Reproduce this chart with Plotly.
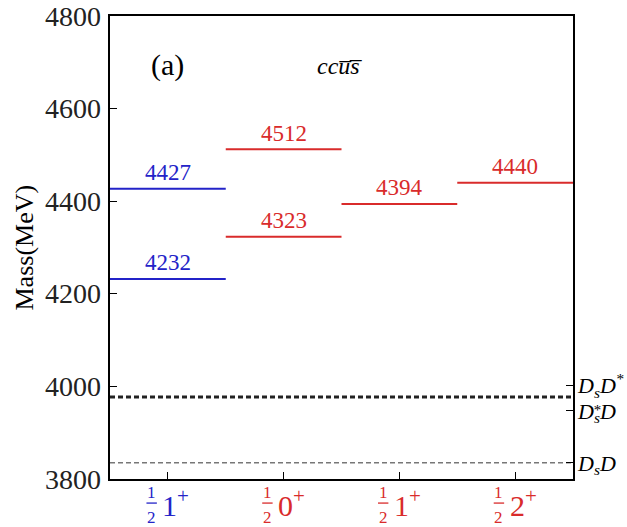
import plotly.graph_objects as go

# ---- data ----
categories = ["1/2 1+", "1/2 0+", "1/2 1+ (b)", "1/2 2+"]
cat_J = ["1", "0", "1", "2"]
cat_colors = ["#2323c8", "#d92b2b", "#d92b2b", "#d92b2b"]
level_cat = [0, 0, 1, 1, 2, 3]
level_mass = [4232, 4427, 4323, 4512, 4394, 4440]

threshold_names = ["DsD*", "Ds*D", "DsD"]
threshold_mass = [3978, 3976, 3835]
threshold_label_pos = [4002, 3947, 3835]
threshold_text = ["<i>D<sub>s</sub>D<sup>*</sup></i>",
                  "<i>D<sub>s</sub>D</i>",
                  "<i>D<sub>s</sub>D</i>"]
threshold_color = ["#222222", "#222222", "#777777"]
threshold_width = [2, 2, 1.5]

yticks = [3800, 4000, 4200, 4400, 4600, 4800]

SERIF = "Liberation Serif"
fig = go.Figure()

# energy levels
for c, m in zip(level_cat, level_mass):
    x0 = c + 1
    fig.add_trace(go.Scatter(
        x=[x0 - 0.5, x0 + 0.5], y=[m, m], mode="lines",
        line=dict(color=cat_colors[c], width=2),
        hoverinfo="skip", showlegend=False))
    fig.add_annotation(x=x0, y=m, xref="x", yref="y", yshift=16,
                       xanchor="center", yanchor="middle", text=str(m),
                       showarrow=False,
                       font=dict(family=SERIF, size=23, color=cat_colors[c]))

# thresholds
for m, col, w in zip(threshold_mass, threshold_color, threshold_width):
    fig.add_trace(go.Scatter(
        x=[0.5, 4.5], y=[m, m], mode="lines", yaxis="y2",
        line=dict(color=col, width=w, dash="5px,3px"),
        hoverinfo="skip", showlegend=False))
# star stacked above the subscript s of D*_s D
fig.add_annotation(x=1, y=threshold_label_pos[1], xref="paper", yref="y",
                   xshift=18, yshift=1, xanchor="left", yanchor="middle",
                   text="<i>*</i>", showarrow=False,
                   font=dict(family=SERIF, size=15, color="black"))

# y tick labels
for v in yticks:
    fig.add_annotation(x=0, y=v, xref="paper", yref="y", xshift=-7,
                       xanchor="right", yanchor="middle", text=str(v),
                       showarrow=False,
                       font=dict(family=SERIF, size=28, color="#222222"))

# x category labels (fraction 1/2 + J^P)
for i, (J, col) in enumerate(zip(cat_J, cat_colors)):
    xc = i + 1
    fig.add_annotation(x=xc - 0.14, y=0, xref="x", yref="paper", yshift=-13,
                       xanchor="center", yanchor="middle",
                       text="1", showarrow=False,
                       font=dict(family=SERIF, size=17, color=col))
    fig.add_annotation(x=xc - 0.14, y=0, xref="x", yref="paper", yshift=-38,
                       xanchor="center", yanchor="middle",
                       text="2", showarrow=False,
                       font=dict(family=SERIF, size=17, color=col))
    fig.add_shape(type="line", xref="x", yref="paper",
                  x0=xc - 0.185, x1=xc - 0.095, y0=-0.052, y1=-0.052,
                  line=dict(color=col, width=1.3))
    fig.add_annotation(x=xc - 0.065, y=0, xref="x", yref="paper", yshift=-24,
                       xanchor="left", yanchor="middle",
                       text=J + "<sup>+</sup>", showarrow=False,
                       font=dict(family=SERIF, size=30, color=col))

# panel labels
fig.add_annotation(x=1, y=0.894, xref="x", yref="paper", text="(a)",
                   xanchor="center", yanchor="middle",
                   showarrow=False, font=dict(family=SERIF, size=30, color="black"))
fig.add_annotation(x=0.497, y=0.892, xref="paper", yref="paper",
                   xanchor="center", yanchor="middle",
                   text="<i>ccu\u0305s\u0305</i>",
                   showarrow=False, font=dict(family=SERIF, size=24, color="black"))
fig.add_annotation(x=-0.1836, y=0.5, xref="paper", yref="paper",
                   xanchor="center", yanchor="middle",
                   text="Mass(MeV)", textangle=-90, showarrow=False,
                   font=dict(family=SERIF, size=26, color="black"))

fig.update_layout(
    width=627, height=527,
    margin=dict(l=110, r=54, t=16, b=48, autoexpand=False),
    font=dict(family=SERIF, color="black"),
    plot_bgcolor="white", paper_bgcolor="white",
    xaxis=dict(range=[0.5, 4.5], tickvals=[1, 2, 3, 4], showticklabels=False,
               ticks="inside", ticklen=7, tickcolor="black", showline=True,
               linecolor="black", linewidth=1.5, mirror=True, showgrid=False,
               zeroline=False, automargin=False),
    yaxis=dict(range=[3800, 4800], tickvals=yticks, ticks="inside", ticklen=7,
               tickcolor="black", showline=True, linecolor="black", linewidth=1.5,
               mirror=True, showgrid=False, zeroline=False, automargin=False,
               showticklabels=False),
    yaxis2=dict(range=[3800, 4800], overlaying="y", side="right",
                tickvals=threshold_label_pos, ticktext=threshold_text,
                ticks="inside", ticklen=7, tickcolor="black", showline=False,
                showgrid=False, zeroline=False, automargin=False,
                ticklabelstandoff=4,
                tickfont=dict(family=SERIF, size=22, color="black")),
)

fig.write_html("out.html")
